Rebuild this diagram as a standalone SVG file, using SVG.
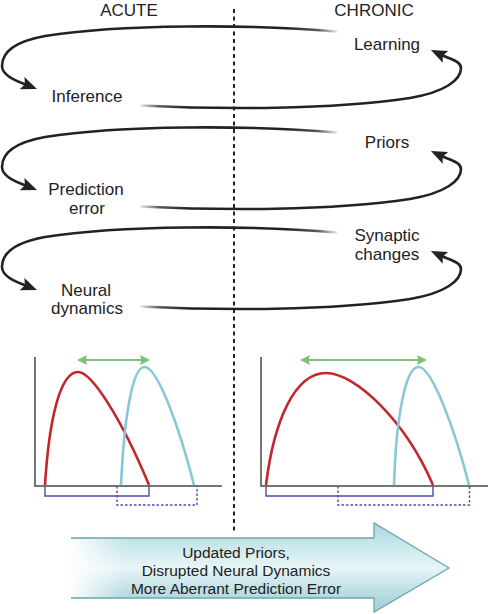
<svg xmlns="http://www.w3.org/2000/svg" width="490" height="614" viewBox="0 0 490 614">
<style>
.lbl{font-family:"Liberation Sans",Arial,Helvetica,sans-serif;font-size:17px;fill:#222;text-anchor:middle}
.ban{font-family:"Liberation Sans",Arial,Helvetica,sans-serif;font-size:15.5px;fill:#222;text-anchor:middle}
.top{fill:none;stroke:url(#fadeR);stroke-width:2.6;marker-end:url(#ah)}
.bot{fill:none;stroke:url(#fadeL);stroke-width:2.6;marker-end:url(#ah)}
.axis{fill:none;stroke:#4a4a4a;stroke-width:1.5}
.red{fill:none;stroke:#c1272d;stroke-width:2.6}
.blue{fill:none;stroke:#86c8d6;stroke-width:2.6}
.grn{fill:none;stroke:#7dc07a;stroke-width:2.2;marker-start:url(#gh);marker-end:url(#gh)}
.solid{fill:none;stroke:#4c4ca6;stroke-width:1.4}
.dash{fill:none;stroke:#4c4ca6;stroke-width:1.4;stroke-dasharray:2.5 2}
</style>
<defs>
<linearGradient id="fadeR" gradientUnits="userSpaceOnUse" x1="285" y1="0" x2="339" y2="0">
<stop offset="0" stop-color="#222" stop-opacity="1"/>
<stop offset="0.6" stop-color="#222" stop-opacity="0.75"/>
<stop offset="1" stop-color="#222" stop-opacity="0.05"/>
</linearGradient>
<linearGradient id="fadeL" gradientUnits="userSpaceOnUse" x1="139" y1="0" x2="190" y2="0">
<stop offset="0" stop-color="#222" stop-opacity="0.05"/>
<stop offset="0.4" stop-color="#222" stop-opacity="0.75"/>
<stop offset="1" stop-color="#222" stop-opacity="1"/>
</linearGradient>
<linearGradient id="banFill" gradientUnits="userSpaceOnUse" x1="0" y1="523" x2="0" y2="612">
<stop offset="0" stop-color="#a9d6dd"/>
<stop offset="0.17" stop-color="#bfe3e8"/>
<stop offset="0.5" stop-color="#e8f5f7"/>
<stop offset="0.83" stop-color="#b2d9df"/>
<stop offset="1" stop-color="#a3d0d8"/>
</linearGradient>
<linearGradient id="banWhite" gradientUnits="userSpaceOnUse" x1="71" y1="0" x2="125" y2="0">
<stop offset="0" stop-color="#fff" stop-opacity="0.95"/>
<stop offset="1" stop-color="#fff" stop-opacity="0"/>
</linearGradient>
<marker id="ah" markerUnits="userSpaceOnUse" markerWidth="30" markerHeight="30" refX="0" refY="0" orient="auto" overflow="visible">
<path d="M10,0 L-6,-6.5 L-3,0 L-6,6.5 Z" fill="#222"/>
</marker>
<marker id="gh" markerUnits="userSpaceOnUse" markerWidth="20" markerHeight="20" refX="0" refY="0" orient="auto-start-reverse" overflow="visible">
<path d="M7,0 L-3,-5 L-1.5,0 L-3,5 Z" fill="#7dc07a"/>
</marker>
<path id="loopTop" d="M337,31.5 C250,24 120,24 45,36 C12,42 2,54 2,66 C2,75 14,80 27.7,85.3"/>
<path id="loopBot" d="M140,105.5 C220,109.5 330,110 410,98 C445,92 461,80 461,68 C461,61 450,59 440,54.3"/>
</defs>

<g id="divider">
<line x1="234" y1="9" x2="234" y2="531" stroke="#222" stroke-width="2" stroke-dasharray="4 3.5"/>
</g>

<g id="connectors">
<g id="loop-1">
<use href="#loopTop" class="top"/>
<use href="#loopBot" class="bot"/>
</g>
<g id="loop-2" transform="translate(0,101)">
<use href="#loopTop" class="top"/>
<use href="#loopBot" class="bot"/>
</g>
<g id="loop-3" transform="translate(0,201)">
<use href="#loopTop" class="top"/>
<use href="#loopBot" class="bot"/>
</g>
</g>

<g id="header-acute"><text class="lbl" x="129" y="16">ACUTE</text></g>
<g id="header-chronic"><text class="lbl" x="374" y="16">CHRONIC</text></g>

<g id="node-learning"><text class="lbl" x="387" y="50">Learning</text></g>
<g id="node-inference"><text class="lbl" x="87" y="101.5">Inference</text></g>
<g id="node-priors"><text class="lbl" x="387" y="148">Priors</text></g>
<g id="node-prediction-error"><text class="lbl" x="86" y="195">Prediction</text><text class="lbl" x="87" y="214">error</text></g>
<g id="node-synaptic-changes"><text class="lbl" x="387" y="241">Synaptic</text><text class="lbl" x="387" y="260">changes</text></g>
<g id="node-neural-dynamics"><text class="lbl" x="86" y="295.5">Neural</text><text class="lbl" x="87" y="314">dynamics</text></g>

<g id="graph-acute">
<path class="axis" d="M35,357 V486 H222"/>
<path class="solid" d="M45,486 V496 H149 V486"/>
<path class="dash" d="M117,486 V505 H197 V486"/>
<path class="red" d="M45,485 C49,420 60,372 78,372 C92,372 122,420 149,485"/>
<path class="blue" d="M121,485 C124,420 132,367 144.5,367 C158,367 180,430 194,485"/>
<path class="grn" d="M84,360 H143"/>
</g>

<g id="graph-chronic">
<path class="axis" d="M261,357 V486 H488"/>
<path class="solid" d="M266,486 V496 H433 V486"/>
<path class="dash" d="M338,486 V505 H469.5 V486"/>
<path class="red" d="M266,485 C274,420 295,373 326,373 C355,373 405,420 433,485"/>
<path class="blue" d="M394,485 C396,420 405,367 418.5,367 C432,367 455,430 469,485"/>
<path class="grn" d="M307,360 H420"/>
</g>

<g id="banner">
<path d="M71,538 L374,538 L374,523 L449,568 L374,612 L374,598 L71,598 Z" fill="url(#banFill)"/>
<rect x="71" y="538.7" width="55" height="58.6" fill="url(#banWhite)"/>
<path d="M71,538 L374,538 L374,523 L449,568 L374,612 L374,598 L71,598" fill="none" stroke="#6ea7ae" stroke-width="1.3" stroke-linejoin="miter"/>
<text class="ban" x="236" y="557.5">Updated Priors,</text>
<text class="ban" x="236" y="575.5">Disrupted Neural Dynamics</text>
<text class="ban" x="236" y="593.5">More Aberrant Prediction Error</text>
</g>
</svg>
